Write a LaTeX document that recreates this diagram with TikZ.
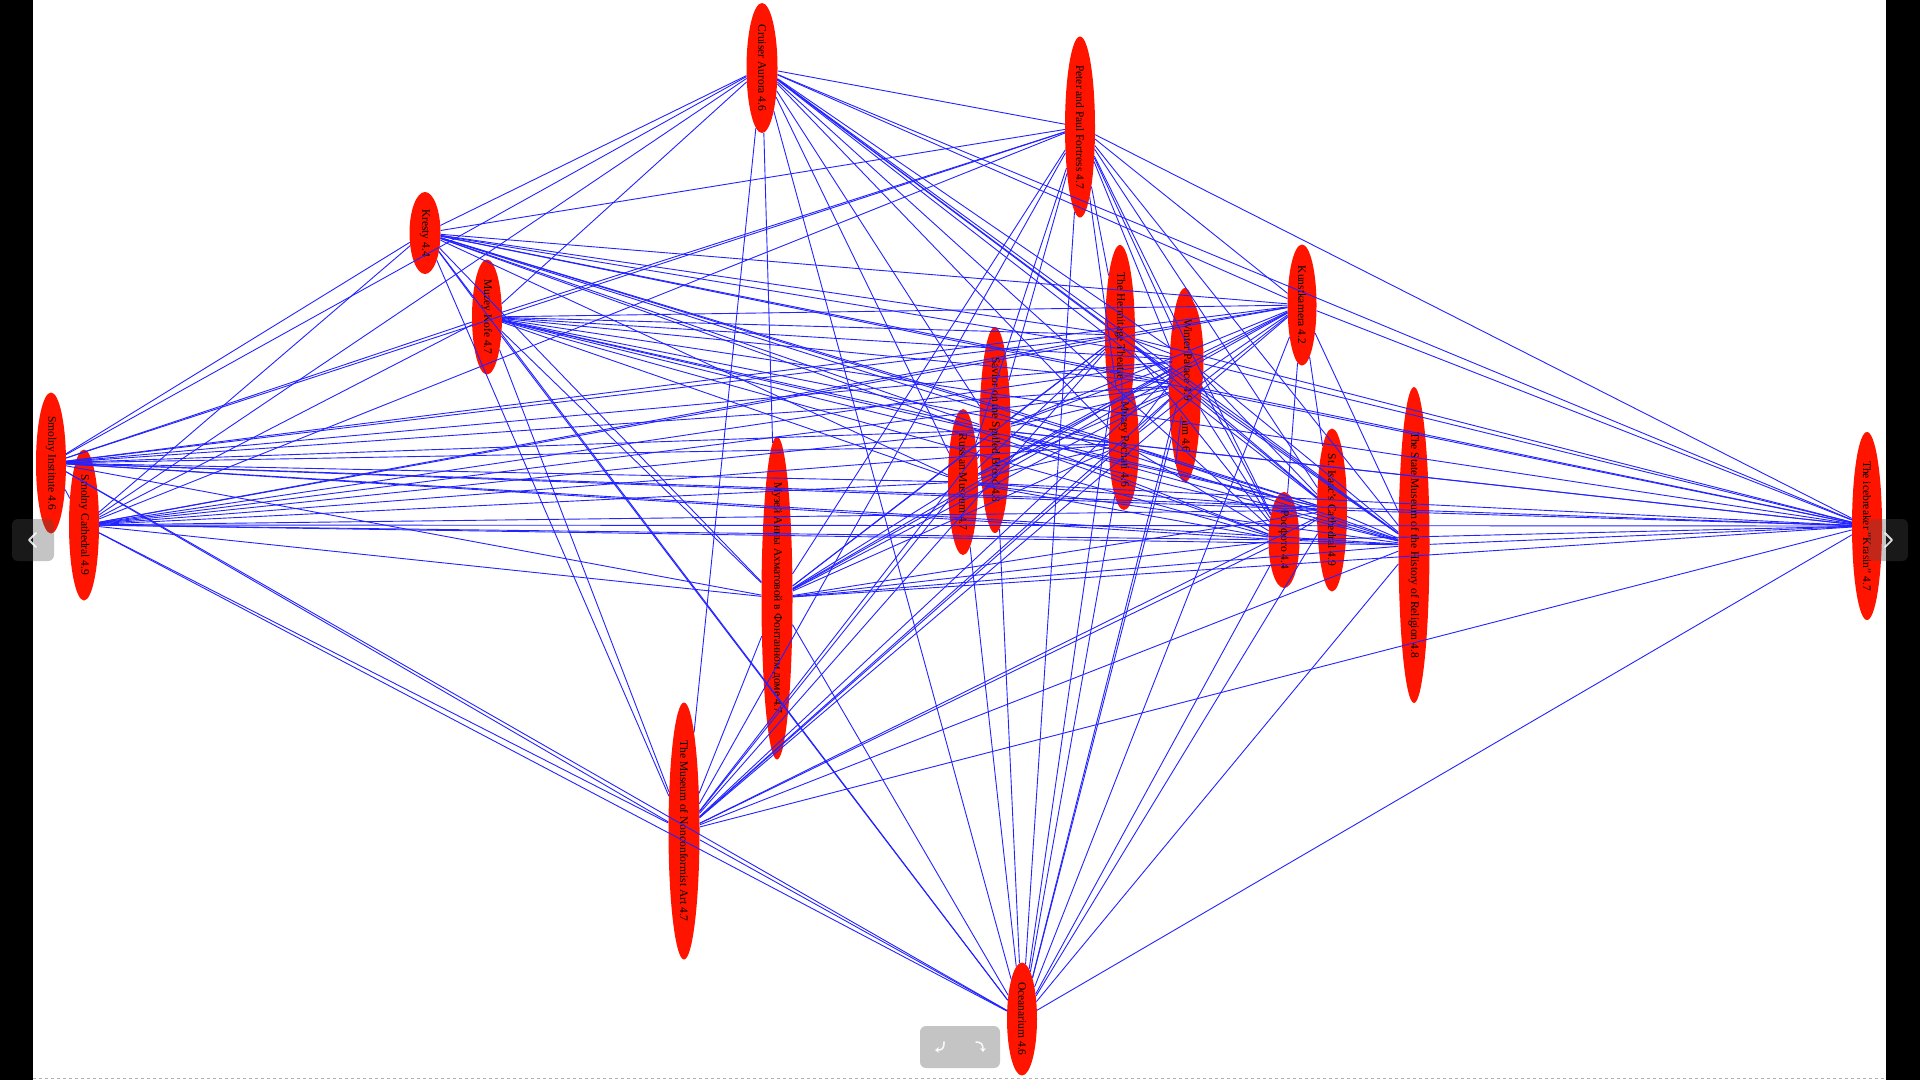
\documentclass[tikz,border=0pt]{standalone}
\usepackage{fontspec}
\setmainfont{Liberation Serif}
\usetikzlibrary{shapes.geometric,arrows.meta}
\definecolor{nodered}{RGB}{255,20,0}
\definecolor{edgeblue}{RGB}{35,35,255}
\tikzset{
  place/.style={ellipse, fill=nodered, draw=none, inner sep=0pt},
  placetext/.style={rotate=-90, inner sep=0pt, font=\fontsize{11.5}{12}\selectfont, text=black},
  link/.style={draw=edgeblue, line width=0.9pt},
  navbtn/.style={fill=black!70, fill opacity=0.33, draw=none, rounded corners=6pt},
  navicon/.style={draw=white, draw opacity=0.85, line width=1.8pt, line cap=round, line join=round},
}
\newcommand\placenode[6]{%
  \node[place, minimum width=#4pt, minimum height=#5pt] (#1) at (#2,#3) {};
  \node[placetext] (#1-t) at (#1) {#6};
}
\begin{document}
\begin{tikzpicture}[x=1pt,y=-1pt]
\useasboundingbox (0,0) rectangle (1920,1080);
\fill[white] (0,0) rectangle (1920,1080);
\fill[black] (0,0) rectangle (33,1080);
\fill[black] (1886,0) rectangle (1920,1080);
\draw[gray!60, dashed, line width=0.8pt] (33,1078.5) -- (1886,1078.5);

\placenode{aur}{762}{68}{31}{130}{Cruiser Aurora 4.6}
\placenode{ppf}{1080}{127}{30}{181}{Peter and Paul Fortress 4.7}
\placenode{kre}{425}{233}{31}{82}{Kresty 4.4}
\placenode{kof}{487}{317}{30}{115}{Muzey Kofe 4.7}
\placenode{sin}{51}{463}{30}{141}{Smolny Institute 4.6}
\placenode{sca}{84}{525}{30}{151}{Smolny Cathedral 4.9}
\placenode{akh}{777}{598}{31}{323}{Музей Анны Ахматовой в Фонтанном доме 4.7}
\placenode{non}{684}{831}{31}{257}{The Museum of Nonconformist Art 4.7}
\placenode{sav}{995}{430}{31}{206}{Savior on the Spilled Blood 4.8}
\placenode{rus}{963}{482}{30}{146}{Russian Museum 4.7}
\placenode{het}{1120}{335}{30}{180}{The Hermitage Theatre 4.7}
\placenode{pec}{1124}{444}{30}{132}{Muzey Pechati 4.6}
\placenode{hem}{1185}{385}{32}{194}{State Hermitage Museum 4.6}
\placenode{wpa}{1188}{360}{31}{124}{Winter Palace 4.9}
\placenode{kun}{1302}{305}{29}{121}{Kunstkamera 4.2}
\placenode{ros}{1284}{540}{31}{96}{Росфото 4.4}
\placenode{isa}{1332}{510}{30}{163}{St. Isaac's Cathedral 4.9}
\placenode{rel}{1414}{545}{31}{316}{The State Museum of the History of Religion 4.8}
\placenode{kra}{1867}{526}{30}{188}{The icebreaker "Krasin" 4.7}
\placenode{oce}{1022}{1019}{30}{113}{Oceanarium 4.6}

\foreach \a [count=\i] in {aur,ppf,kre,kof,sin,sca,akh,non,sav,rus,het,pec,hem,wpa,kun,ros,isa,rel,kra,oce} {
  \foreach \b [count=\j] in {aur,ppf,kre,kof,sin,sca,akh,non,sav,rus,het,pec,hem,wpa,kun,ros,isa,rel,kra,oce} {
    \ifnum\j>\i\relax \draw[link] (\a) -- (\b); \fi
  }
}

% navigation buttons
\fill[navbtn] (12,519) rectangle (54,561);
\draw[navicon] (36,533) -- (29,540) -- (36,547);
\fill[navbtn] (1868,519) rectangle (1908,561);
\draw[navicon] (1885,533) -- (1892,540) -- (1885,547);
\fill[navbtn] (920,1026) rectangle (1000,1068);
\draw[navicon, line width=1.6pt, -{Stealth[length=4pt,width=6pt]}] (944,1042) .. controls (944,1049) and (942,1050) .. (935,1050);
\draw[navicon, line width=1.6pt, -{Stealth[length=4pt,width=6pt]}] (976,1042) .. controls (981,1042) and (983,1044) .. (983,1052);
\end{tikzpicture}
\end{document}
